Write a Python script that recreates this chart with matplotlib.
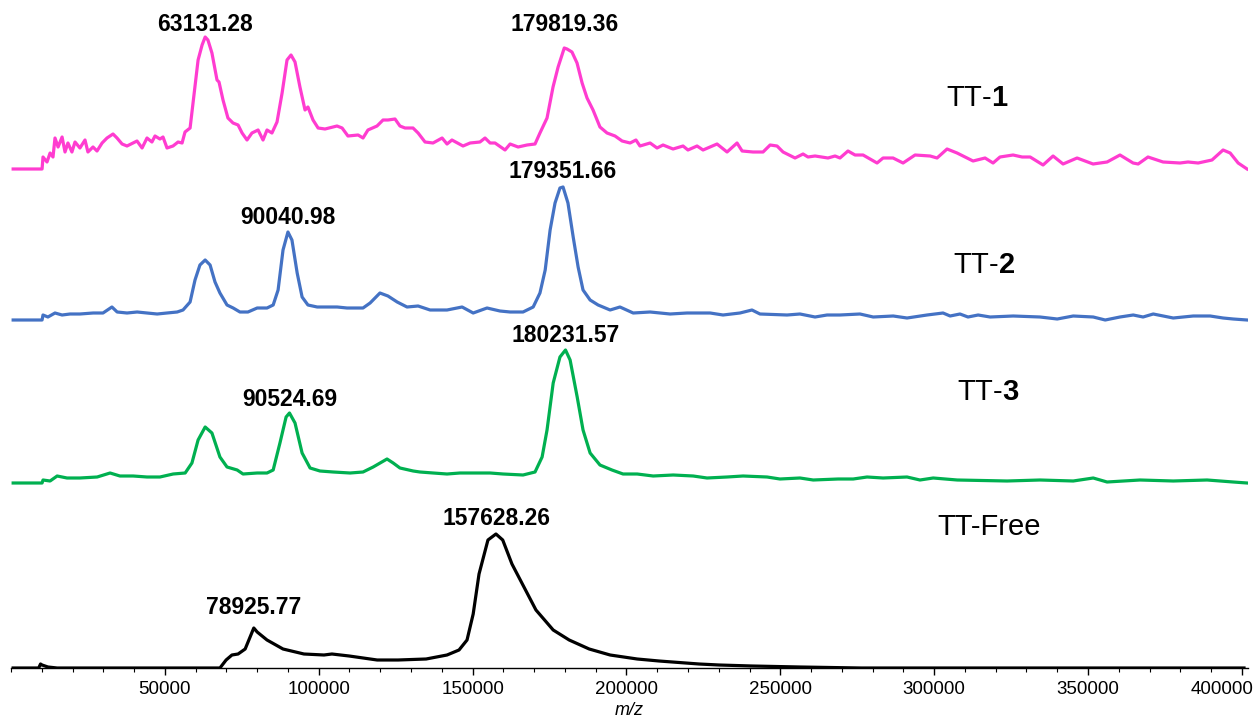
import numpy as np
import matplotlib
matplotlib.use("Agg")
import matplotlib.pyplot as plt
import matplotlib.transforms as mtransforms
from matplotlib.ticker import MultipleLocator

plt.rcParams["font.family"] = ["Liberation Sans", "DejaVu Sans"]
plt.rcParams["mathtext.fontset"] = "custom"
plt.rcParams["mathtext.rm"] = "Liberation Sans"
plt.rcParams["mathtext.bf"] = "Liberation Sans:bold"

# MALDI-TOF spectra, m/z vs intensity (a.u., each trace above its own baseline)
tt1_mz = [700, 10100, 10400, 11700, 12700, 13650, 14300, 15300, 16600, 17550, 18500, 19800,
          20800, 22400, 24050, 25000, 26650, 27950, 29600, 31200, 33150, 34450, 36100, 37700,
          39650, 40950, 42600, 44200, 45800, 46800, 48400, 49400, 50700, 52650, 54300, 55600,
          56550, 58200, 59150, 60800, 62100, 63100, 64000, 65300, 66950, 67600, 68900, 70500,
          72150, 73800, 75100, 76700, 78300, 80300, 81900, 83200, 84800, 86450, 88100, 89700,
          91000, 92300, 93900, 95550, 96500, 98150, 99800, 102050, 104650, 105950, 107600, 109500,
          112800, 114400, 116000, 118950, 120900, 122500, 124800, 126400, 128050, 130650, 132300, 134550,
          137150, 140100, 141700, 143300, 146900, 149200, 152400, 154050, 155700, 157300, 160550, 162200,
          164800, 167700, 170300, 171900, 174200, 176150, 177800, 179800, 180700, 182300, 183950, 185600,
          187200, 189150, 191400, 193700, 196300, 198600, 201200, 203100, 204400, 207700, 209950, 211900,
          215150, 218400, 220000, 222950, 224900, 229450, 231100, 232700, 235950, 237600, 241150, 244400,
          246700, 248950, 250900, 254800, 257400, 259000, 261300, 265500, 267800, 269400, 272000, 274300,
          276900, 281450, 283400, 286650, 289900, 293800, 298700, 300950, 304200, 307450, 312650, 316550,
          319150, 321400, 325650, 328600, 331200, 335400, 338650, 341900, 346450, 351650, 356200, 360400,
          364650, 366300, 369500, 374400, 379900, 382500, 385800, 390300, 393900, 396200, 398800, 401700]
tt1_int = [0, 0, 12, 7, 16, 12, 31, 22, 32, 17, 26, 17,
           27, 21, 29, 17, 22, 18, 26, 31, 35, 31, 25, 23,
           26, 28, 21, 31, 27, 33, 30, 32, 21, 23, 27, 26,
           37, 41, 66, 109, 124, 132, 129, 116, 89, 87, 69, 51,
           46, 44, 36, 29, 36, 39, 29, 39, 36, 47, 76, 109,
           114, 107, 82, 59, 62, 49, 41, 40, 42, 43, 41, 33,
           34, 31, 39, 43, 49, 49, 50, 43, 41, 41, 36, 27,
           26, 31, 25, 29, 23, 26, 27, 31, 26, 26, 19, 25,
           22, 24, 25, 36, 51, 82, 102, 121, 120, 117, 106, 86,
           71, 59, 42, 36, 33, 28, 26, 29, 23, 26, 21, 24,
           20, 23, 19, 23, 19, 25, 21, 17, 26, 18, 17, 17,
           24, 23, 17, 11, 15, 12, 13, 11, 13, 11, 18, 14,
           14, 6, 11, 11, 6, 14, 13, 11, 20, 16, 8, 11,
           6, 12, 14, 12, 12, 4, 13, 5, 11, 5, 7, 14,
           6, 5, 12, 7, 6, 7, 6, 9, 19, 16, 6, 0]

tt2_mz = [700, 10100, 10400, 12000, 14300, 16600, 19200, 22400, 26700, 29900, 32800, 34500,
          37700, 41000, 44200, 47500, 50700, 54000, 55900, 58200, 59800, 61400, 63100, 64700,
          66300, 67900, 70200, 72200, 74400, 77000, 80000, 83200, 85200, 86800, 88400, 90000,
          91300, 93000, 94600, 96500, 99500, 102700, 106000, 109200, 114400, 116700, 119900, 122500,
          125500, 128700, 132300, 136200, 141700, 146600, 150200, 154700, 158900, 162200, 166400, 169700,
          171900, 173600, 175200, 176800, 178400, 179400, 181000, 182700, 184300, 185900, 188200, 190800,
          194700, 197900, 202200, 207700, 214200, 219700, 227200, 231400, 236900, 240800, 243400, 252200,
          256400, 261300, 265200, 269400, 275900, 280200, 286700, 291200, 297700, 302900, 305200, 308400,
          311000, 314300, 318200, 325700, 334400, 340000, 345200, 351700, 355600, 360400, 364700, 367900,
          371200, 377700, 384200, 389700, 393900, 397200, 401700]
tt2_int = [0, 0, 5, 3, 7, 5, 6, 6, 7, 7, 13, 8,
           7, 8, 7, 6, 7, 8, 10, 18, 40, 55, 60, 55,
           38, 27, 15, 12, 8, 8, 12, 12, 15, 30, 70, 88,
           80, 47, 23, 15, 13, 13, 13, 12, 12, 17, 27, 24,
           18, 13, 14, 10, 10, 13, 7, 12, 9, 8, 8, 13,
           27, 50, 90, 117, 132, 133, 117, 83, 53, 30, 20, 15,
           10, 13, 7, 8, 6, 7, 7, 5, 7, 10, 6, 5,
           6, 3, 5, 5, 6, 3, 4, 2, 5, 7, 4, 6,
           3, 5, 3, 4, 3, 1, 4, 3, 0, 3, 5, 3,
           6, 2, 4, 4, 2, 1, 0]

tt3_mz = [700, 10100, 10400, 12700, 15000, 18200, 22400, 28000, 32200, 35400, 39700, 44200,
          48400, 52700, 56600, 58800, 60800, 63100, 65300, 67900, 70200, 73500, 75400, 80000,
          83200, 85200, 87400, 89400, 90500, 92300, 94600, 97200, 100400, 104700, 110200, 114400,
          117700, 122200, 124200, 126400, 130700, 132900, 137200, 141700, 145900, 150200, 155700, 159900,
          166400, 170300, 172600, 174200, 176200, 178400, 180200, 181700, 184000, 185900, 188200, 191400,
          195300, 198900, 203500, 208700, 215200, 221700, 226200, 232700, 237900, 245700, 249900, 256400,
          260700, 268800, 273700, 278200, 283400, 291200, 295400, 299700, 307500, 323700, 334400, 345200,
          351700, 356200, 366900, 377700, 388700, 397200, 401700]
tt3_int = [0, 0, 3, 2, 7, 5, 5, 6, 10, 7, 7, 6,
           6, 9, 10, 20, 43, 56, 50, 26, 16, 13, 9, 10,
           10, 13, 40, 66, 70, 60, 30, 15, 12, 11, 10, 11,
           16, 24, 20, 15, 12, 11, 10, 9, 10, 10, 10, 9,
           8, 11, 26, 53, 100, 126, 133, 123, 86, 53, 30, 18,
           13, 9, 9, 7, 8, 7, 5, 6, 7, 6, 4, 5,
           3, 4, 4, 6, 5, 6, 3, 5, 3, 2, 3, 2,
           5, 1, 3, 2, 3, 1, 0]

free_mz = [700, 9000, 9600, 10100, 12000, 15000, 35400, 48800, 59500, 67900, 69900, 71800, 73800,
           76100, 78900, 80000, 83200, 88400, 95200, 101700, 104300, 109900, 119000, 125800, 134900,
           141700, 145600, 148200, 150200, 152100, 155000, 157600, 159800, 162800, 166700, 170600, 176200,
           181400, 187900, 194700, 203500, 210600, 223600, 230100, 240800, 256400, 276300, 400700]
free_int = [0, 0, 4, 3, 1, 0, 0, 0, 0, 0, 8, 13, 14,
            19, 40, 36, 28, 19, 14, 13, 14, 12, 8, 8, 9,
            13, 18, 28, 54, 94, 128, 134, 128, 104, 81, 58, 38,
            28, 19, 13, 9, 7, 4, 3, 2, 1, 0, 0]

sample_names = ["TT-$\\mathbf{1}$", "TT-$\\mathbf{2}$", "TT-$\\mathbf{3}$", "TT-Free"]
peak_labels = [["63131.28", "179819.36"], ["90040.98", "179351.66"],
               ["90524.69", "180231.57"], ["78925.77", "157628.26"]]

colors = ["#FF3CD0", "#4472C4", "#00B050", "#000000"]
baselines = [499, 348, 185, 0]
label_gaps = [[1, 12], [3, 4], [2, 3], [9, 4]]
name_pos = [(304000, 570), (306000, 403), (307500, 276), (301000, 141)]

traces = [(tt1_mz, tt1_int), (tt2_mz, tt2_int), (tt3_mz, tt3_int), (free_mz, free_int)]

fig = plt.figure(figsize=(12.56, 7.23), dpi=100)
ax = fig.add_axes([11 / 1256, 55 / 723, 1237 / 1256, 668 / 723])

for (mz, inten), col, base, labels, gaps, name, npos in zip(
        traces, colors, baselines, peak_labels, label_gaps, sample_names, name_pos):
    mz = np.asarray(mz, float)
    inten = np.asarray(inten, float)
    ax.plot(mz, inten + base, color=col, lw=2.3, solid_joinstyle="round", zorder=3)
    for lab, gap in zip(labels, gaps):
        x = float(lab)
        win = (mz > x - 4000) & (mz < x + 4000)
        top = inten[win].max() if win.any() else np.interp(x, mz, inten)
        ax.text(x, base + top + gap, lab, ha="center", va="bottom",
                fontsize=16.5, fontweight="bold", color="black")
    ax.text(npos[0], npos[1], name, ha="left", va="center", fontsize=21, color="black")

ax.set_xlim(0, 402000)
ax.set_ylim(0, 668)
for side in ("left", "right", "top"):
    ax.spines[side].set_visible(False)
ax.spines["bottom"].set_linewidth(1.0)
ax.set_yticks([])
ax.set_xticks(np.arange(50000, 400001, 50000))
ax.xaxis.set_minor_locator(MultipleLocator(10000))
ax.tick_params(axis="x", which="major", direction="out", length=5, width=1.0,
               labelsize=13.5, pad=4, colors="black")
ax.tick_params(axis="x", which="minor", direction="out", length=3, width=0.8)
ax.set_xlabel("m/z", fontsize=13, fontstyle="italic", labelpad=3)

last = ax.get_xticklabels()[-1]
last.set_horizontalalignment("right")
last.set_transform(last.get_transform() +
                   mtransforms.ScaledTranslation(12 / 100, 0, fig.dpi_scale_trans))

fig.savefig("out.png", dpi=100)
